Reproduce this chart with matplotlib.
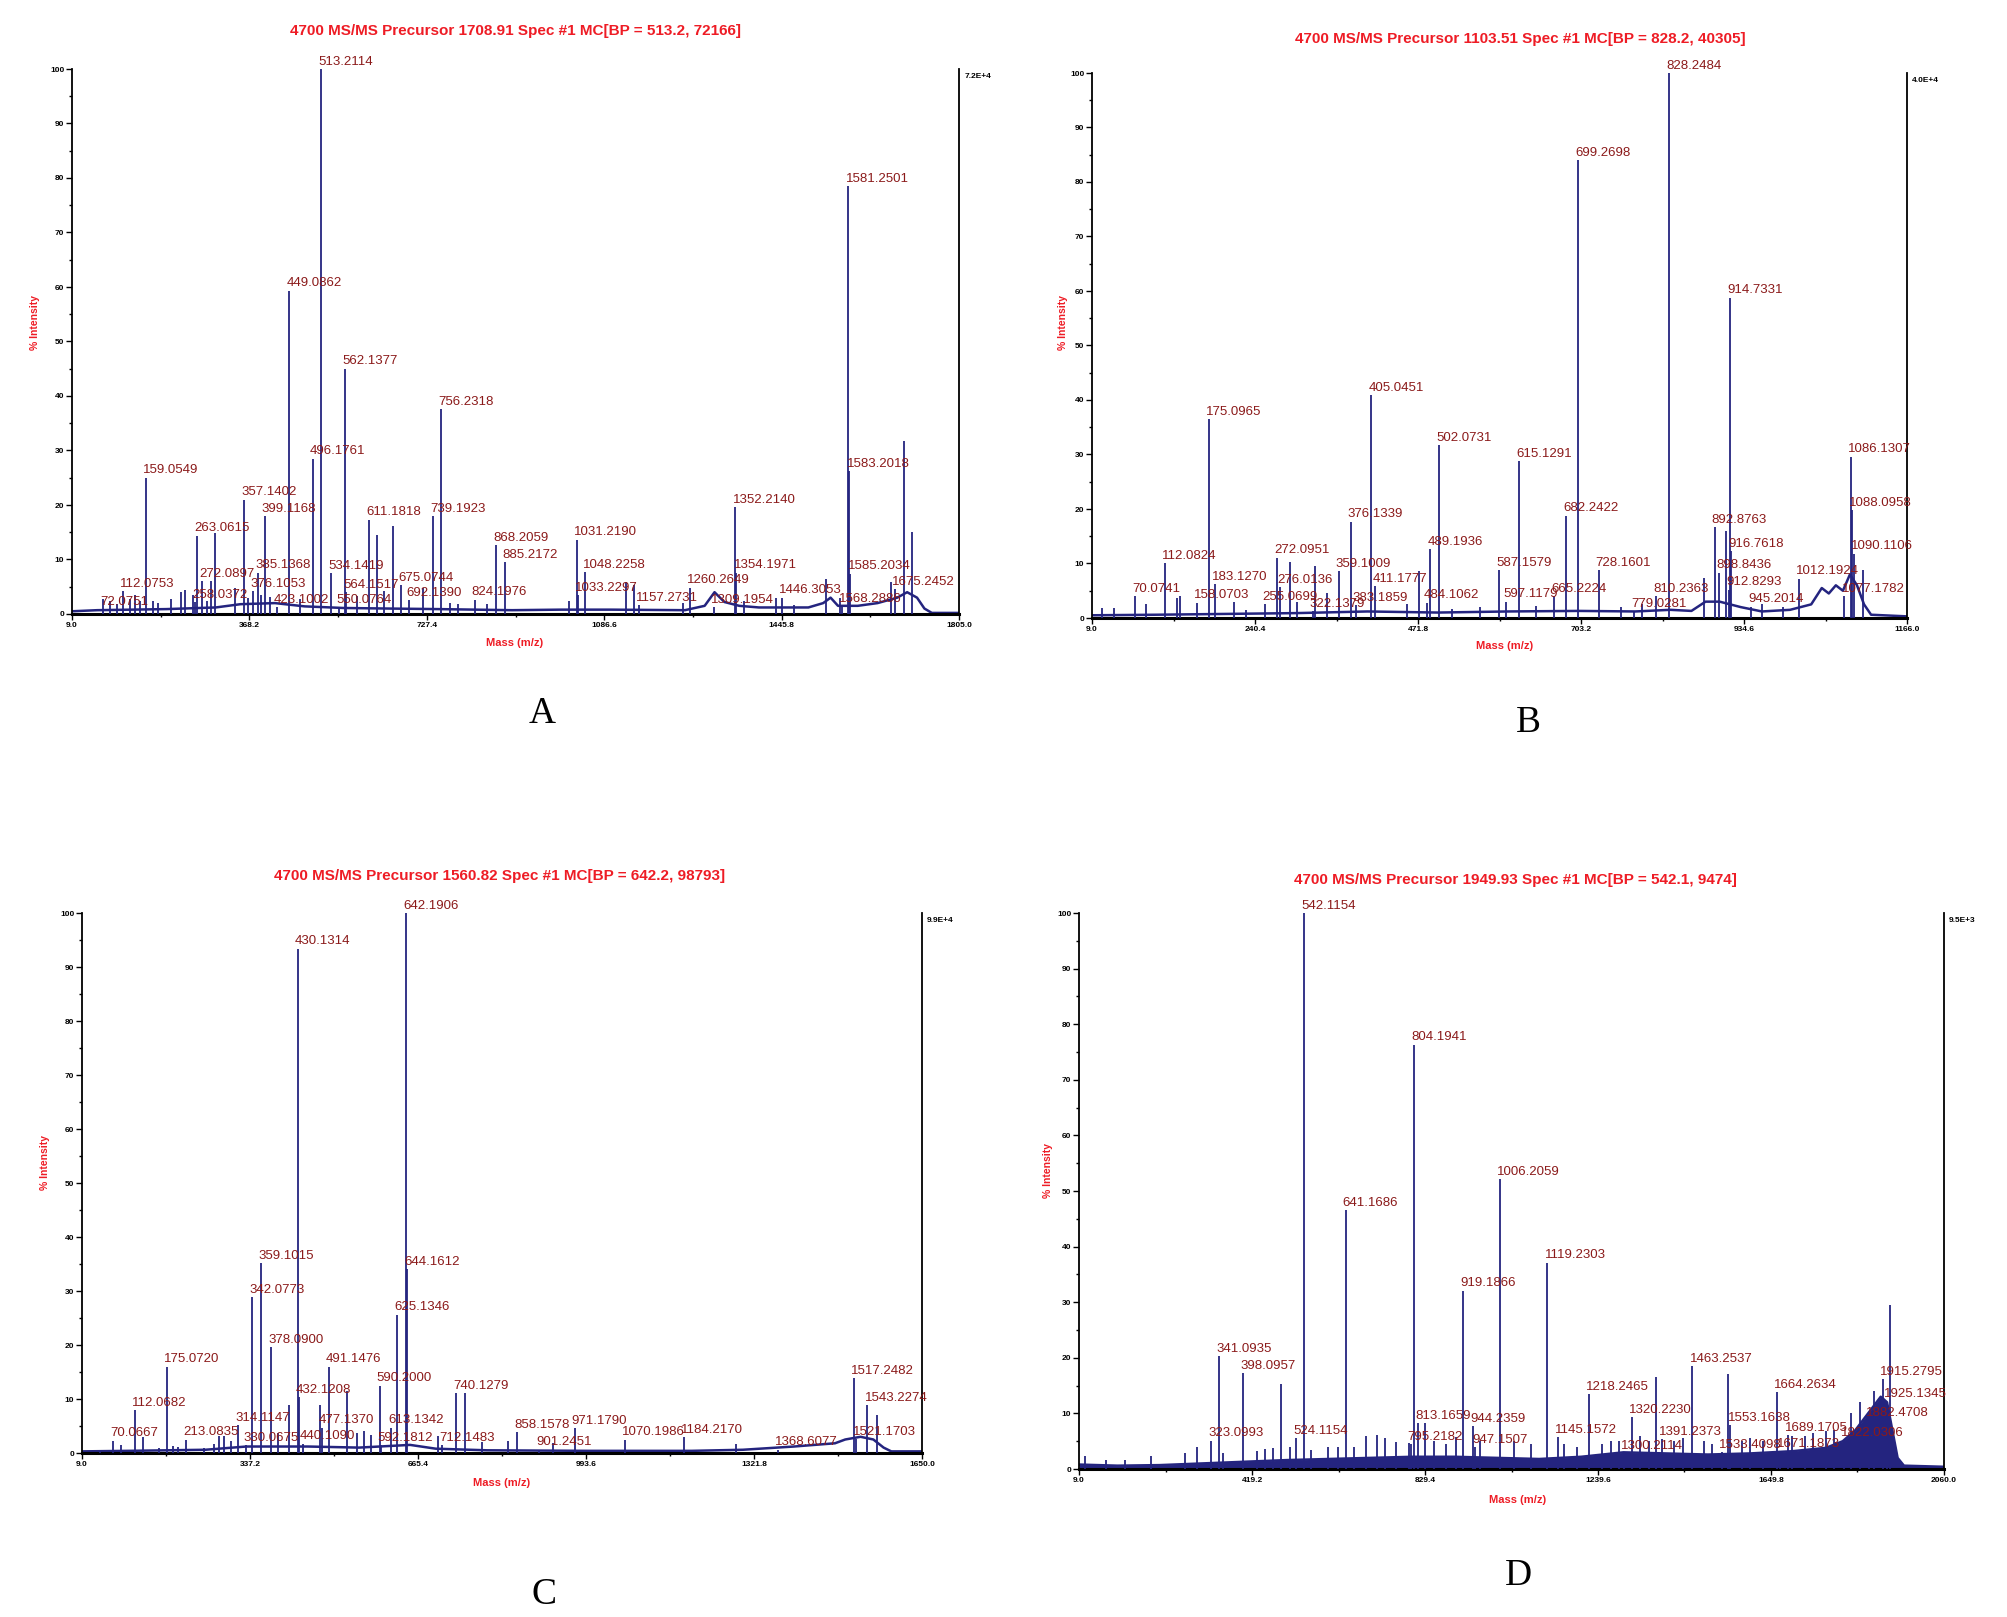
import matplotlib
matplotlib.use("Agg")
import matplotlib.pyplot as plt
from matplotlib.ticker import FixedLocator, MultipleLocator

# ---------------- DATA ----------------
A_title = "4700 MS/MS Precursor 1708.91 Spec #1 MC[BP = 513.2, 72166]"
A_scale = "7.2E+4"
A_xticks = [9.0, 368.2, 727.4, 1086.6, 1445.8, 1805.0]
A_peak_mz = [72.0751, 112.0753, 159.0549, 258.0372, 263.0615, 272.0897, 357.1402, 376.1053,
             385.1368, 399.1168, 423.1002, 449.0862, 496.1761, 513.2114, 534.1419, 550.0764,
             562.1377, 564.1517, 611.1818, 675.0744, 692.1390, 739.1923, 756.2318, 824.1976,
             868.2059, 885.2172, 1031.2190, 1033.2297, 1048.2258, 1157.2731, 1260.2649,
             1309.1954, 1352.2140, 1354.1971, 1446.3053, 1568.2886, 1581.2501, 1583.2018,
             1585.2034, 1675.2452]
A_peak_int = [2.8, 4.2, 25.0, 2.2, 14.4, 6.0, 21.0, 4.2,
              7.6, 18.0, 1.2, 59.3, 28.5, 100.0, 7.5, 1.2,
              45.0, 4.0, 17.3, 5.3, 2.5, 18.0, 37.6, 2.6,
              12.6, 9.5, 13.6, 3.4, 7.7, 1.6, 4.8,
              1.2, 19.6, 7.6, 3.0, 1.4, 78.5, 26.2,
              7.4, 4.5]
A_peak_label = ["72.0751", "112.0753", "159.0549", "258.0372", "263.0615", "272.0897", "357.1402", "376.1053",
                "385.1368", "399.1168", "423.1002", "449.0862", "496.1761", "513.2114", "534.1419", "550.0764",
                "562.1377", "564.1517", "611.1818", "675.0744", "692.1390", "739.1923", "756.2318", "824.1976",
                "868.2059", "885.2172", "1031.2190", "1033.2297", "1048.2258", "1157.2731", "1260.2649",
                "1309.1954", "1352.2140", "1354.1971", "1446.3053", "1568.2886", "1581.2501", "1583.2018",
                "1585.2034", "1675.2452"]
A_minor_mz = [86, 101, 127, 137, 147, 173, 183, 210, 230, 237, 254, 283, 291, 299.5, 338.5, 366,
              392, 410, 470, 586, 626, 640, 658.7, 719, 774, 791, 849, 1015, 1130.7, 1147, 1246,
              1370, 1433.6, 1470, 1535.5, 1564, 1668, 1694, 1710]
A_minor_int = [2.4, 1.8, 2.8, 3.4, 2.4, 2.4, 2.1, 2.8, 4.0, 4.4, 3.4, 2.4, 6.0, 14.8, 4.7, 3.0,
               3.5, 3.2, 2.8, 3.3, 14.5, 4.2, 16.1, 4.8, 2.0, 1.8, 1.9, 2.3, 5.8, 5.3, 2.0,
               2.3, 2.9, 1.7, 6.5, 2.9, 5.8, 31.7, 15.0]
A_base_mz = [9, 60, 200, 300, 350, 420, 480, 560, 650, 750, 900, 1000, 1100, 1250, 1290, 1310,
             1330, 1360, 1400, 1500, 1530, 1545, 1560, 1600, 1640, 1680, 1700, 1720, 1735, 1750, 1805]
A_base_int = [0.5, 0.7, 0.9, 1.2, 1.8, 2.0, 1.4, 1.1, 1.0, 0.9, 0.7, 0.8, 0.8, 0.7, 1.5, 4.0,
              2.2, 1.5, 1.2, 1.2, 2.0, 3.0, 1.5, 1.5, 2.0, 3.0, 4.0, 3.0, 1.0, 0.2, 0.2]

B_title = "4700 MS/MS Precursor 1103.51 Spec #1 MC[BP = 828.2, 40305]"
B_scale = "4.0E+4"
B_xticks = [9.0, 240.4, 471.8, 703.2, 934.6, 1166.0]
B_peak_mz = [70.0741, 112.0824, 158.0703, 175.0965, 183.1270, 255.0699, 272.0951, 276.0136,
             322.1379, 359.1009, 376.1339, 383.1859, 405.0451, 411.1777, 484.1062, 489.1936,
             502.0731, 587.1579, 597.1179, 615.1291, 665.2224, 682.2422, 699.2698, 728.1601,
             779.0281, 810.2363, 828.2484, 892.8763, 898.8436, 912.8293, 914.7331, 916.7618,
             945.2014, 1012.1924, 1077.1782, 1086.1307, 1088.0958, 1090.1106]
B_peak_int = [4.0, 10.0, 2.8, 36.5, 6.2, 2.5, 11.1, 5.6,
              1.2, 8.6, 17.7, 2.4, 40.9, 5.8, 2.8, 12.6,
              31.7, 8.8, 3.0, 28.8, 4.0, 18.8, 84.0, 8.8,
              1.2, 4.0, 100.0, 16.7, 8.3, 5.2, 58.8, 12.3,
              2.1, 7.2, 4.0, 29.6, 19.8, 11.8]
B_peak_label = ["70.0741", "112.0824", "158.0703", "175.0965", "183.1270", "255.0699", "272.0951", "276.0136",
                "322.1379", "359.1009", "376.1339", "383.1859", "405.0451", "411.1777", "484.1062", "489.1936",
                "502.0731", "587.1579", "597.1179", "615.1291", "665.2224", "682.2422", "699.2698", "728.1601",
                "779.0281", "810.2363", "828.2484", "892.8763", "898.8436", "912.8293", "914.7331", "916.7618",
                "945.2014", "1012.1924", "1077.1782", "1086.1307", "1088.0958", "1090.1106"]
B_minor_mz = [22.6, 40, 85, 129, 133.6, 211, 227, 290, 300, 325.5, 343, 456.5, 473, 520, 560,
              640, 760, 790, 877.6, 908.6, 960, 990, 1104]
B_minor_int = [1.9, 1.9, 2.5, 3.7, 4.0, 2.9, 1.4, 10.3, 3.0, 9.5, 4.5, 2.5, 8.6, 1.6, 2.0,
               2.2, 2.0, 2.5, 7.4, 16.0, 2.5, 2.0, 8.8]
B_base_mz = [9, 100, 300, 400, 500, 600, 700, 780, 830, 860, 880, 900, 930, 960, 1000, 1030,
             1045, 1055, 1065, 1075, 1085, 1095, 1105, 1115, 1166]
B_base_int = [0.5, 0.6, 0.9, 1.2, 1.0, 1.2, 1.3, 1.2, 1.5, 1.3, 3.0, 3.0, 2.0, 1.2, 1.5, 2.5,
              5.5, 4.5, 6.0, 5.0, 8.0, 6.0, 2.5, 0.6, 0.3]

C_title = "4700 MS/MS Precursor 1560.82 Spec #1 MC[BP = 642.2, 98793]"
C_scale = "9.9E+4"
C_xticks = [9.0, 337.2, 665.4, 993.6, 1321.8, 1650.0]
C_peak_mz = [70.0667, 112.0682, 175.0720, 213.0835, 314.1147, 330.0675, 342.0773, 359.1015,
             378.0900, 430.1314, 432.1208, 440.1090, 477.1370, 491.1476, 590.2000, 592.1812,
             613.1342, 625.1346, 642.1906, 644.1612, 712.1483, 740.1279, 858.1578, 901.2451,
             971.1790, 1070.1986, 1184.2170, 1368.6077, 1517.2482, 1521.1703, 1543.2274]
C_peak_int = [2.3, 7.9, 16.0, 2.5, 5.2, 1.5, 28.8, 35.2,
              19.6, 93.4, 10.3, 1.7, 4.7, 16.0, 12.5, 1.5,
              4.7, 25.6, 100.0, 34.0, 1.5, 11.1, 3.8, 0.6,
              4.6, 2.5, 2.9, 0.6, 13.9, 2.6, 8.9]
C_peak_label = ["70.0667", "112.0682", "175.0720", "213.0835", "314.1147", "330.0675", "342.0773", "359.1015",
                "378.0900", "430.1314", "432.1208", "440.1090", "477.1370", "491.1476", "590.2000", "592.1812",
                "613.1342", "625.1346", "642.1906", "644.1612", "712.1483", "740.1279", "858.1578", "901.2451",
                "971.1790", "1070.1986", "1184.2170", "1368.6077", "1517.2482", "1521.1703", "1543.2274"]
C_minor_mz = [44, 85, 128, 159, 186, 196, 248, 267, 277, 286, 300, 391.6, 414, 473, 527.5, 546,
              559, 573, 703.7, 756.5, 790, 842, 930, 1286, 1562]
C_minor_int = [0.5, 1.5, 2.9, 0.9, 1.3, 1.2, 1.0, 1.6, 3.1, 3.1, 2.2, 3.7, 8.9, 8.9, 11.4, 3.7,
               4.1, 3.4, 3.2, 11.1, 2.0, 2.3, 1.8, 1.6, 7.0]
C_base_mz = [9, 100, 250, 330, 450, 550, 650, 700, 800, 1000, 1200, 1300, 1400, 1480, 1500,
             1530, 1555, 1575, 1590, 1650]
C_base_int = [0.3, 0.4, 0.6, 1.2, 1.2, 1.0, 1.5, 0.8, 0.5, 0.4, 0.4, 0.6, 1.2, 1.8, 2.5,
              3.0, 2.5, 1.0, 0.3, 0.3]

D_title = "4700 MS/MS Precursor 1949.93 Spec #1 MC[BP = 542.1, 9474]"
D_scale = "9.5E+3"
D_xticks = [9.0, 419.2, 829.4, 1239.6, 1649.8, 2060.0]
D_peak_mz = [323.0993, 341.0935, 398.0957, 524.1154, 542.1154, 641.1686, 795.2182, 804.1941,
             813.1659, 919.1866, 944.2359, 947.1507, 1006.2059, 1119.2303, 1145.1572, 1218.2465,
             1300.2114, 1320.2230, 1391.2373, 1463.2537, 1533.4098, 1553.1638, 1664.2634,
             1671.1873, 1689.1705, 1822.0306, 1882.4708, 1915.2795, 1925.1345]
D_peak_int = [5.1, 20.3, 17.2, 5.5, 100.0, 46.6, 4.5, 76.3,
              8.2, 32.1, 7.7, 3.9, 52.1, 37.1, 5.7, 13.4,
              2.8, 9.3, 5.4, 18.5, 3.0, 7.9, 13.8,
              3.2, 6.1, 5.2, 8.8, 16.1, 12.1]
D_peak_label = ["323.0993", "341.0935", "398.0957", "524.1154", "542.1154", "641.1686", "795.2182", "804.1941",
                "813.1659", "919.1866", "944.2359", "947.1507", "1006.2059", "1119.2303", "1145.1572", "1218.2465",
                "1300.2114", "1320.2230", "1391.2373", "1463.2537", "1533.4098", "1553.1638", "1664.2634",
                "1671.1873", "1689.1705", "1822.0306", "1882.4708", "1915.2795", "1925.1345"]
D_minor_mz = [24, 74, 117, 180, 260, 289, 350, 430, 450, 468, 488, 510, 560, 600, 624, 660, 690,
              715, 735, 760, 791, 829, 850, 880, 902, 960, 1040, 1080, 1160, 1190, 1250, 1270,
              1290, 1340, 1360, 1376, 1420, 1440, 1490, 1510, 1549, 1580, 1600, 1630, 1700,
              1730, 1750, 1780, 1800, 1840, 1860, 1895, 1931]
D_minor_int = [2.4, 1.7, 1.7, 2.4, 2.8, 4.0, 2.8, 3.2, 3.6, 3.8, 15.2, 4.0, 3.5, 4.0, 4.0, 4.0, 6.0,
               6.2, 5.5, 4.8, 4.7, 8.2, 5.0, 4.5, 5.7, 5.0, 5.0, 4.5, 4.5, 4.0, 4.5, 5.0,
               5.0, 6.0, 5.0, 16.6, 5.0, 5.5, 5.0, 4.5, 17.0, 5.0, 5.5, 5.0, 6.0,
               6.0, 6.5, 6.9, 7.0, 10.0, 12.0, 14.0, 29.5]
D_base_mz = [9, 100, 200, 300, 400, 500, 600, 700, 800, 900, 1000, 1100, 1200, 1300, 1400,
             1500, 1600, 1700, 1780, 1820, 1850, 1870, 1890, 1910, 1925, 1940, 1950, 1965, 2060]
D_base_int = [0.8, 0.6, 0.7, 1.0, 1.3, 1.6, 1.8, 2.0, 2.2, 2.2, 2.0, 1.8, 2.2, 3.0, 2.8,
              2.6, 2.8, 3.2, 3.8, 5.0, 7.0, 9.0, 11.0, 13.0, 12.0, 6.0, 2.0, 0.6, 0.4]

# ---------------- STYLE / LAYOUT ----------------
W, H = 2007, 1617
NAVY = "#24247f"
LABEL_RED = "#8b1a1a"
TITLE_RED = "#ee1c25"
SANS = ["Liberation Sans", "DejaVu Sans"]
SERIF = ["Liberation Serif", "DejaVu Serif"]

# label baselines (in % units) where the label does not sit right on its peak
LABEL_Y = {("A", "72.0751"): 0.9}

fig = plt.figure(figsize=(W / 100, H / 100), dpi=100)
fig.patch.set_facecolor("white")


def rect(l, r, t, b):
    return [l / W, 1 - b / H, (r - l) / W, (b - t) / H]


def fx(x):
    return x / W


def fy(y):
    return 1 - y / H


panels = [
    dict(key="A", title=A_title, scale=A_scale, xt=A_xticks, pmz=A_peak_mz, pint=A_peak_int, plab=A_peak_label,
         mmz=A_minor_mz, mint=A_minor_int, bmz=A_base_mz, bint=A_base_int, fill=False,
         box=(72, 959, 69, 614), tpos=(515, 31), ylab=(35, 322), xlab=(515, 643), lpos=(542, 714)),
    dict(key="B", title=B_title, scale=B_scale, xt=B_xticks, pmz=B_peak_mz, pint=B_peak_int, plab=B_peak_label,
         mmz=B_minor_mz, mint=B_minor_int, bmz=B_base_mz, bint=B_base_int, fill=False,
         box=(1092, 1907, 73, 618), tpos=(1520, 39), ylab=(1063, 322), xlab=(1505, 646), lpos=(1528, 723)),
    dict(key="C", title=C_title, scale=C_scale, xt=C_xticks, pmz=C_peak_mz, pint=C_peak_int, plab=C_peak_label,
         mmz=C_minor_mz, mint=C_minor_int, bmz=C_base_mz, bint=C_base_int, fill=False,
         box=(82, 922, 913, 1453), tpos=(500, 876), ylab=(45, 1162), xlab=(502, 1483), lpos=(544, 1595)),
    dict(key="D", title=D_title, scale=D_scale, xt=D_xticks, pmz=D_peak_mz, pint=D_peak_int, plab=D_peak_label,
         mmz=D_minor_mz, mint=D_minor_int, bmz=D_base_mz, bint=D_base_int, fill=True,
         box=(1079, 1944, 913, 1469), tpos=(1515, 880), ylab=(1048, 1171), xlab=(1518, 1500), lpos=(1518, 1576)),
]

for p in panels:
    ax = fig.add_axes(rect(*p["box"]))
    xt = p["xt"]
    ax.set_xlim(xt[0], xt[-1])
    ax.set_ylim(0, 100)

    # baseline / noise floor
    if p["fill"]:
        ax.fill_between(p["bmz"], 0, p["bint"], color=NAVY, lw=0, zorder=2)
    ax.plot(p["bmz"], p["bint"], color=NAVY, lw=1.8, zorder=2)
    # unlabeled peaks
    ax.vlines(p["mmz"], 0, p["mint"], colors=NAVY, lw=1.3, zorder=3)
    # labeled peaks
    ax.vlines(p["pmz"], 0, p["pint"], colors=NAVY, lw=1.3, zorder=3)
    for mz, it, lab in zip(p["pmz"], p["pint"], p["plab"]):
        yl = LABEL_Y.get((p["key"], lab), it)
        ax.annotate(lab, (mz, yl), xytext=(-2, 1), textcoords="offset points",
                    ha="left", va="bottom", fontsize=9.5, color=LABEL_RED,
                    family=SANS, zorder=4)

    # spines
    ax.spines["top"].set_visible(False)
    ax.spines["left"].set_linewidth(1.3)
    ax.spines["right"].set_linewidth(1.3)
    ax.spines["bottom"].set_linewidth(2.2)
    for s in ax.spines.values():
        s.set_color("black")

    ax.xaxis.set_major_locator(FixedLocator(xt))
    step = xt[1] - xt[0]
    ax.xaxis.set_minor_locator(FixedLocator([v + step / 2 for v in xt[:-1]]))
    ax.set_xticklabels(["%.1f" % v for v in xt], fontsize=6, family=SANS, fontweight="bold")
    ax.yaxis.set_major_locator(MultipleLocator(10))
    ax.yaxis.set_minor_locator(MultipleLocator(5))
    ax.set_yticklabels([str(int(v)) for v in ax.get_yticks()], fontsize=6, family=SANS, fontweight="bold")
    ax.tick_params(axis="both", which="major", direction="out", length=4, width=1.0, pad=1.5)
    ax.tick_params(axis="both", which="minor", direction="out", length=2.5, width=1.0)
    ax.tick_params(axis="y", which="both", right=False)

    ax.text(1.006, 0.987, p["scale"], transform=ax.transAxes, ha="left", va="center",
            fontsize=6, family=SANS, fontweight="bold", color="black")

    fig.text(fx(p["tpos"][0]), fy(p["tpos"][1]), p["title"], ha="center", va="center",
             fontsize=11, fontweight="bold", color=TITLE_RED, family=SANS)
    fig.text(fx(p["ylab"][0]), fy(p["ylab"][1]), "% Intensity", rotation=90, ha="center", va="center",
             fontsize=7.5, fontweight="bold", color=TITLE_RED, family=SANS)
    fig.text(fx(p["xlab"][0]), fy(p["xlab"][1]), "Mass (m/z)", ha="center", va="center",
             fontsize=8, fontweight="bold", color=TITLE_RED, family=SANS)
    fig.text(fx(p["lpos"][0]), fy(p["lpos"][1]), p["key"], ha="center", va="center",
             fontsize=27, color="black", family=SERIF)

fig.savefig("out.png", dpi=100, facecolor="white")
